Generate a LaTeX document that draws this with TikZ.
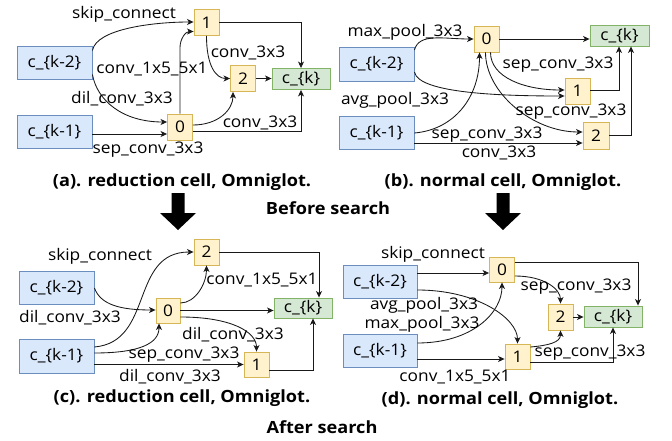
\documentclass[tikz,border=0pt]{standalone}
\usepackage{fontspec}
\setmainfont{Open Sans}[FakeStretch=1.08]
\usetikzlibrary{arrows.meta,calc}

\definecolor{inbg}{HTML}{DAE8FC}\definecolor{inbd}{HTML}{6C8EBF}
\definecolor{opbg}{HTML}{FFF2CC}\definecolor{opbd}{HTML}{D6B656}
\definecolor{outbg}{HTML}{D5E8D4}\definecolor{outbd}{HTML}{82B366}

\tikzset{
  every node/.style={font=\fontsize{16}{18}\selectfont, inner sep=0pt},
  inbox/.style={draw=inbd, fill=inbg, line width=0.9pt, minimum width=75pt, minimum height=33pt},
  opbox/.style={draw=opbd, fill=opbg, line width=0.9pt, minimum width=25pt, minimum height=26pt},
  outbox/.style={draw=outbd, fill=outbg, line width=0.9pt, minimum width=58pt, minimum height=21pt},
  conn/.style={draw=black!90, line width=0.85pt, -{Stealth[length=6.5pt,width=6pt,inset=1.8pt]}},
  lbl/.style={fill=none},
  captxt/.style={font=\fontsize{16.8}{19}\selectfont\bfseries},
  bigarrow/.style={fill=black, draw=none}
}

\begin{document}
\begin{tikzpicture}[x=1pt,y=-1pt]
\useasboundingbox (0,0) rectangle (672,441);

% ---------------- (a) reduction cell, before search ----------------
\node[inbox] (a2) at (54.5,62.5) {c\_\{k-2\}};
\node[inbox] (a1) at (54.5,131.5) {c\_\{k-1\}};
\node[opbox] (aN1) at (206.5,22.5) {1};
\node[opbox] (aN2) at (243,78.5) {2};
\node[opbox] (aN0) at (180,127) {0};
\node[outbox] (ack) at (301,79) {c\_\{k\}};

\draw[conn] ($(a2.east)+(0,-12)$) to[out=80,in=180,out distance=22,in distance=40] ($(aN1.west)+(0,-0.5)$);
\draw[conn] ($(a2.east)+(0,12)$) to[out=-80,in=180,out distance=26,in distance=45] ($(aN0.west)+(0,-5)$);
\draw[conn] ($(a1.east)+(0,2.5)$) -- ($(aN0.west)+(0,7)$);
\draw[conn] (aN0.north) -- ++(0,-66) to[out=90,in=180] ($(aN1.west)+(0,9)$);
\draw[conn] (aN1.south) to[out=-90,in=180,out distance=30,in distance=14] (aN2.west);
\draw[conn] ($(aN0.east)+(0,-2)$) to[out=0,in=-90,out distance=25,in distance=18] ($(aN2.south)+(-10,0)$);
\draw[conn] (aN2.east) -- (aN2.east -| ack.west);
\draw[conn] (aN1.east) -| (ack.north);
\draw[conn] ($(aN0.east)+(0,4)$) -| (ack.south);

\node[lbl] (la1) at (124,14) {skip\_connect};
\node[lbl] (la2) at (152,69) {conv\_1x5\_5x1};
\node[lbl] (la3) at (122,99) {dil\_conv\_3x3};
\node[lbl] (la4) at (148,150) {sep\_conv\_3x3};
\node[lbl] (la5) at (248,53) {conv\_3x3};
\node[lbl] (la6) at (260,123) {conv\_3x3};

% ---------------- (b) normal cell, before search ----------------
\node[inbox, minimum height=34pt] (b2) at (376.5,64) {c\_\{k-2\}};
\node[inbox] (b1) at (376.5,132.5) {c\_\{k-1\}};
\node[opbox] (bN0) at (486.5,39) {0};
\node[outbox, minimum width=59pt] (bck) at (619.5,35.5) {c\_\{k\}};
\node[opbox] (bN1) at (577.5,91) {1};
\node[opbox, minimum width=26pt, minimum height=27pt] (bN2) at (596,135.5) {2};

\draw[conn] ($(b2.east)+(0,-14)$) to[out=75,in=180,out distance=18,in distance=30] (bN0.west);
\draw[conn] ($(b2.east)+(0,8)$) to[out=-80,in=180,out distance=22,in distance=60] ($(bN1.west)+(0,5)$);
\draw[conn] ($(b1.east)+(0,0.5)$) to[out=5,in=-90,out distance=40,in distance=45] ($(bN0.south)+(-7,0)$);
\draw[conn] ($(b1.east)+(0,10.5)$) -- ($(bN2.west)+(0,7.5)$);
\draw[conn] (bN0.east) -- (bN0.east -| bck.west);
\draw[conn] ($(bN0.south)+(4,0)$) to[out=-90,in=180,out distance=25,in distance=40] ($(bN1.west)+(0,-1)$);
\draw[conn] ($(bN0.south)+(-1,0)$) to[out=-90,in=180,out distance=40,in distance=50] ($(bN2.west)+(0,-3.5)$);
\draw[conn] ($(bN1.east)+(0,-1)$) -| ($(bck.south)+(-0.5,0)$);
\draw[conn] ($(bN2.east)+(0,-0.5)$) -| ($(bck.south)+(11.5,0)$);

\node[lbl] (lb1) at (405,32) {max\_pool\_3x3};
\node[lbl] (lb2) at (558,65) {sep\_conv\_3x3};
\node[lbl] (lb3) at (395,100) {avg\_pool\_3x3};
\node[lbl] (lb4) at (571,112) {sep\_conv\_3x3};
\node[lbl] (lb5) at (487,135) {sep\_conv\_3x3};
\node[lbl] (lb6) at (499,153) {conv\_3x3};

% ---------------- captions and arrows, before search ----------------
\node[captxt] (capa) at (182,182) {(a). reduction cell, Omniglot.};
\node[captxt] (capb) at (503,182) {(b). normal cell, Omniglot.};
\node[captxt] (before) at (328,208) {Before search};
\fill[bigarrow] (171.5,193) -- (184.5,193) -- (184.5,213) -- (196,213) -- (178,230) -- (160,213) -- (171.5,213) -- cycle;
\fill[bigarrow] (496.5,193) -- (509.5,193) -- (509.5,213) -- (521,213) -- (503,230) -- (485,213) -- (496.5,213) -- cycle;

% ---------------- (c) reduction cell, after search ----------------
\node[inbox] (c2) at (56.5,287.5) {c\_\{k-2\}};
\node[inbox, minimum height=34pt] (c1) at (56.5,356) {c\_\{k-1\}};
\node[opbox] (cN2) at (206.5,252) {2};
\node[opbox, minimum width=24pt, minimum height=25pt] (cN0) at (168,310.5) {0};
\node[outbox, minimum height=20pt] (cck) at (303,308) {c\_\{k\}};
\node[opbox, minimum height=25pt] (cN1) at (256.5,364.5) {1};

\draw[conn] ($(c1.east)+(0,-9)$) to[out=5,in=180,out distance=60,in distance=64] (cN2.west);
\draw[conn] ($(c2.east)+(0,0.5)$) to[out=-70,in=180,out distance=18,in distance=35] ($(cN0.west)+(0,-0.5)$);
\draw[conn] ($(c1.east)+(0,-3)$) to[out=0,in=-90,out distance=45,in distance=20] ($(cN0.south)+(-9,0)$);
\draw[conn] (c1.east |- cN1.west) -- (cN1.west);
\draw[conn] ($(cN0.east)+(0,-7.5)$) to[out=0,in=-90,out distance=15,in distance=18] (cN2.south);
\draw[conn] (cN0.east) -- (cN0.east -| cck.west);
\draw[conn] ($(cN0.east)+(0,6.5)$) to[out=0,in=90,out distance=50,in distance=20] (cN1.north);
\draw[conn] (cN2.east) -| ($(cck.north)+(16,0)$);
\draw[conn] ($(cN1.east)+(0,5.5)$) -| ($(cck.south)+(10,0)$);

\node[lbl] (lc1) at (100,256) {skip\_connect};
\node[lbl] (lc2) at (262,280) {conv\_1x5\_5x1};
\node[lbl] (lc3) at (70,318) {dil\_conv\_3x3};
\node[lbl] (lc4) at (233,335) {dil\_conv\_3x3};
\node[lbl] (lc5) at (184,355) {sep\_conv\_3x3};
\node[lbl] (lc6) at (170,377) {dil\_conv\_3x3};

% ---------------- (d) normal cell, after search ----------------
\node[inbox, minimum width=74pt] (d2) at (380,281.5) {c\_\{k-2\}};
\node[inbox, minimum width=74pt] (d1) at (380,350.5) {c\_\{k-1\}};
\node[opbox, minimum height=25pt] (dN0) at (502,269.5) {0};
\node[opbox] (dN2) at (560.5,317) {2};
\node[outbox] (dck) at (613,316.5) {c\_\{k\}};
\node[opbox, minimum height=25pt] (dN1) at (517.5,356.5) {1};

\draw[conn] ($(d2.east)+(0,-8.5)$) -- ($(dN0.west)+(0,3.5)$);
\draw[conn] ($(d2.east)+(0,8.5)$) to[out=0,in=90,out distance=60,in distance=25] (dN1.north);
\draw[conn] ($(d1.east)+(0,-7.5)$) to[out=0,in=-90,out distance=55,in distance=30] (dN0.south);
\draw[conn] ($(d1.east)+(0,8.5)$) -- ($(dN1.west)+(0,2.5)$);
\draw[conn] ($(dN0.east)+(0,6.5)$) to[out=0,in=90,out distance=30,in distance=14] (dN2.north);
\draw[conn] ($(dN0.east)+(0,-7.5)$) -| ($(dck.north)+(25,0)$);
\draw[conn] (dN2.east) -- (dN2.east -| dck.west);
\draw[conn] ($(dN1.east)+(0,-9.5)$) to[out=5,in=-90,out distance=18,in distance=12] (dN2.south);
\draw[conn] ($(dN1.east)+(0,5.5)$) -| (dck.south);

\node[lbl] (ld1) at (433,254) {skip\_connect};
\node[lbl] (ld2) at (576,287) {sep\_conv\_3x3};
\node[lbl] (ld3) at (424,305) {avg\_pool\_3x3};
\node[lbl] (ld4) at (422,324) {max\_pool\_3x3};
\node[lbl] (ld5) at (590,353) {sep\_conv\_3x3};
\node[lbl] (ld6) at (455,377) {conv\_1x5\_5x1};

% ---------------- captions, after search ----------------
\node[captxt] (capc) at (182,398) {(c). reduction cell, Omniglot.};
\node[captxt] (capd) at (500,400) {(d). normal cell, Omniglot.};
\node[captxt] (after) at (322,427) {After search};
\end{tikzpicture}
\end{document}
